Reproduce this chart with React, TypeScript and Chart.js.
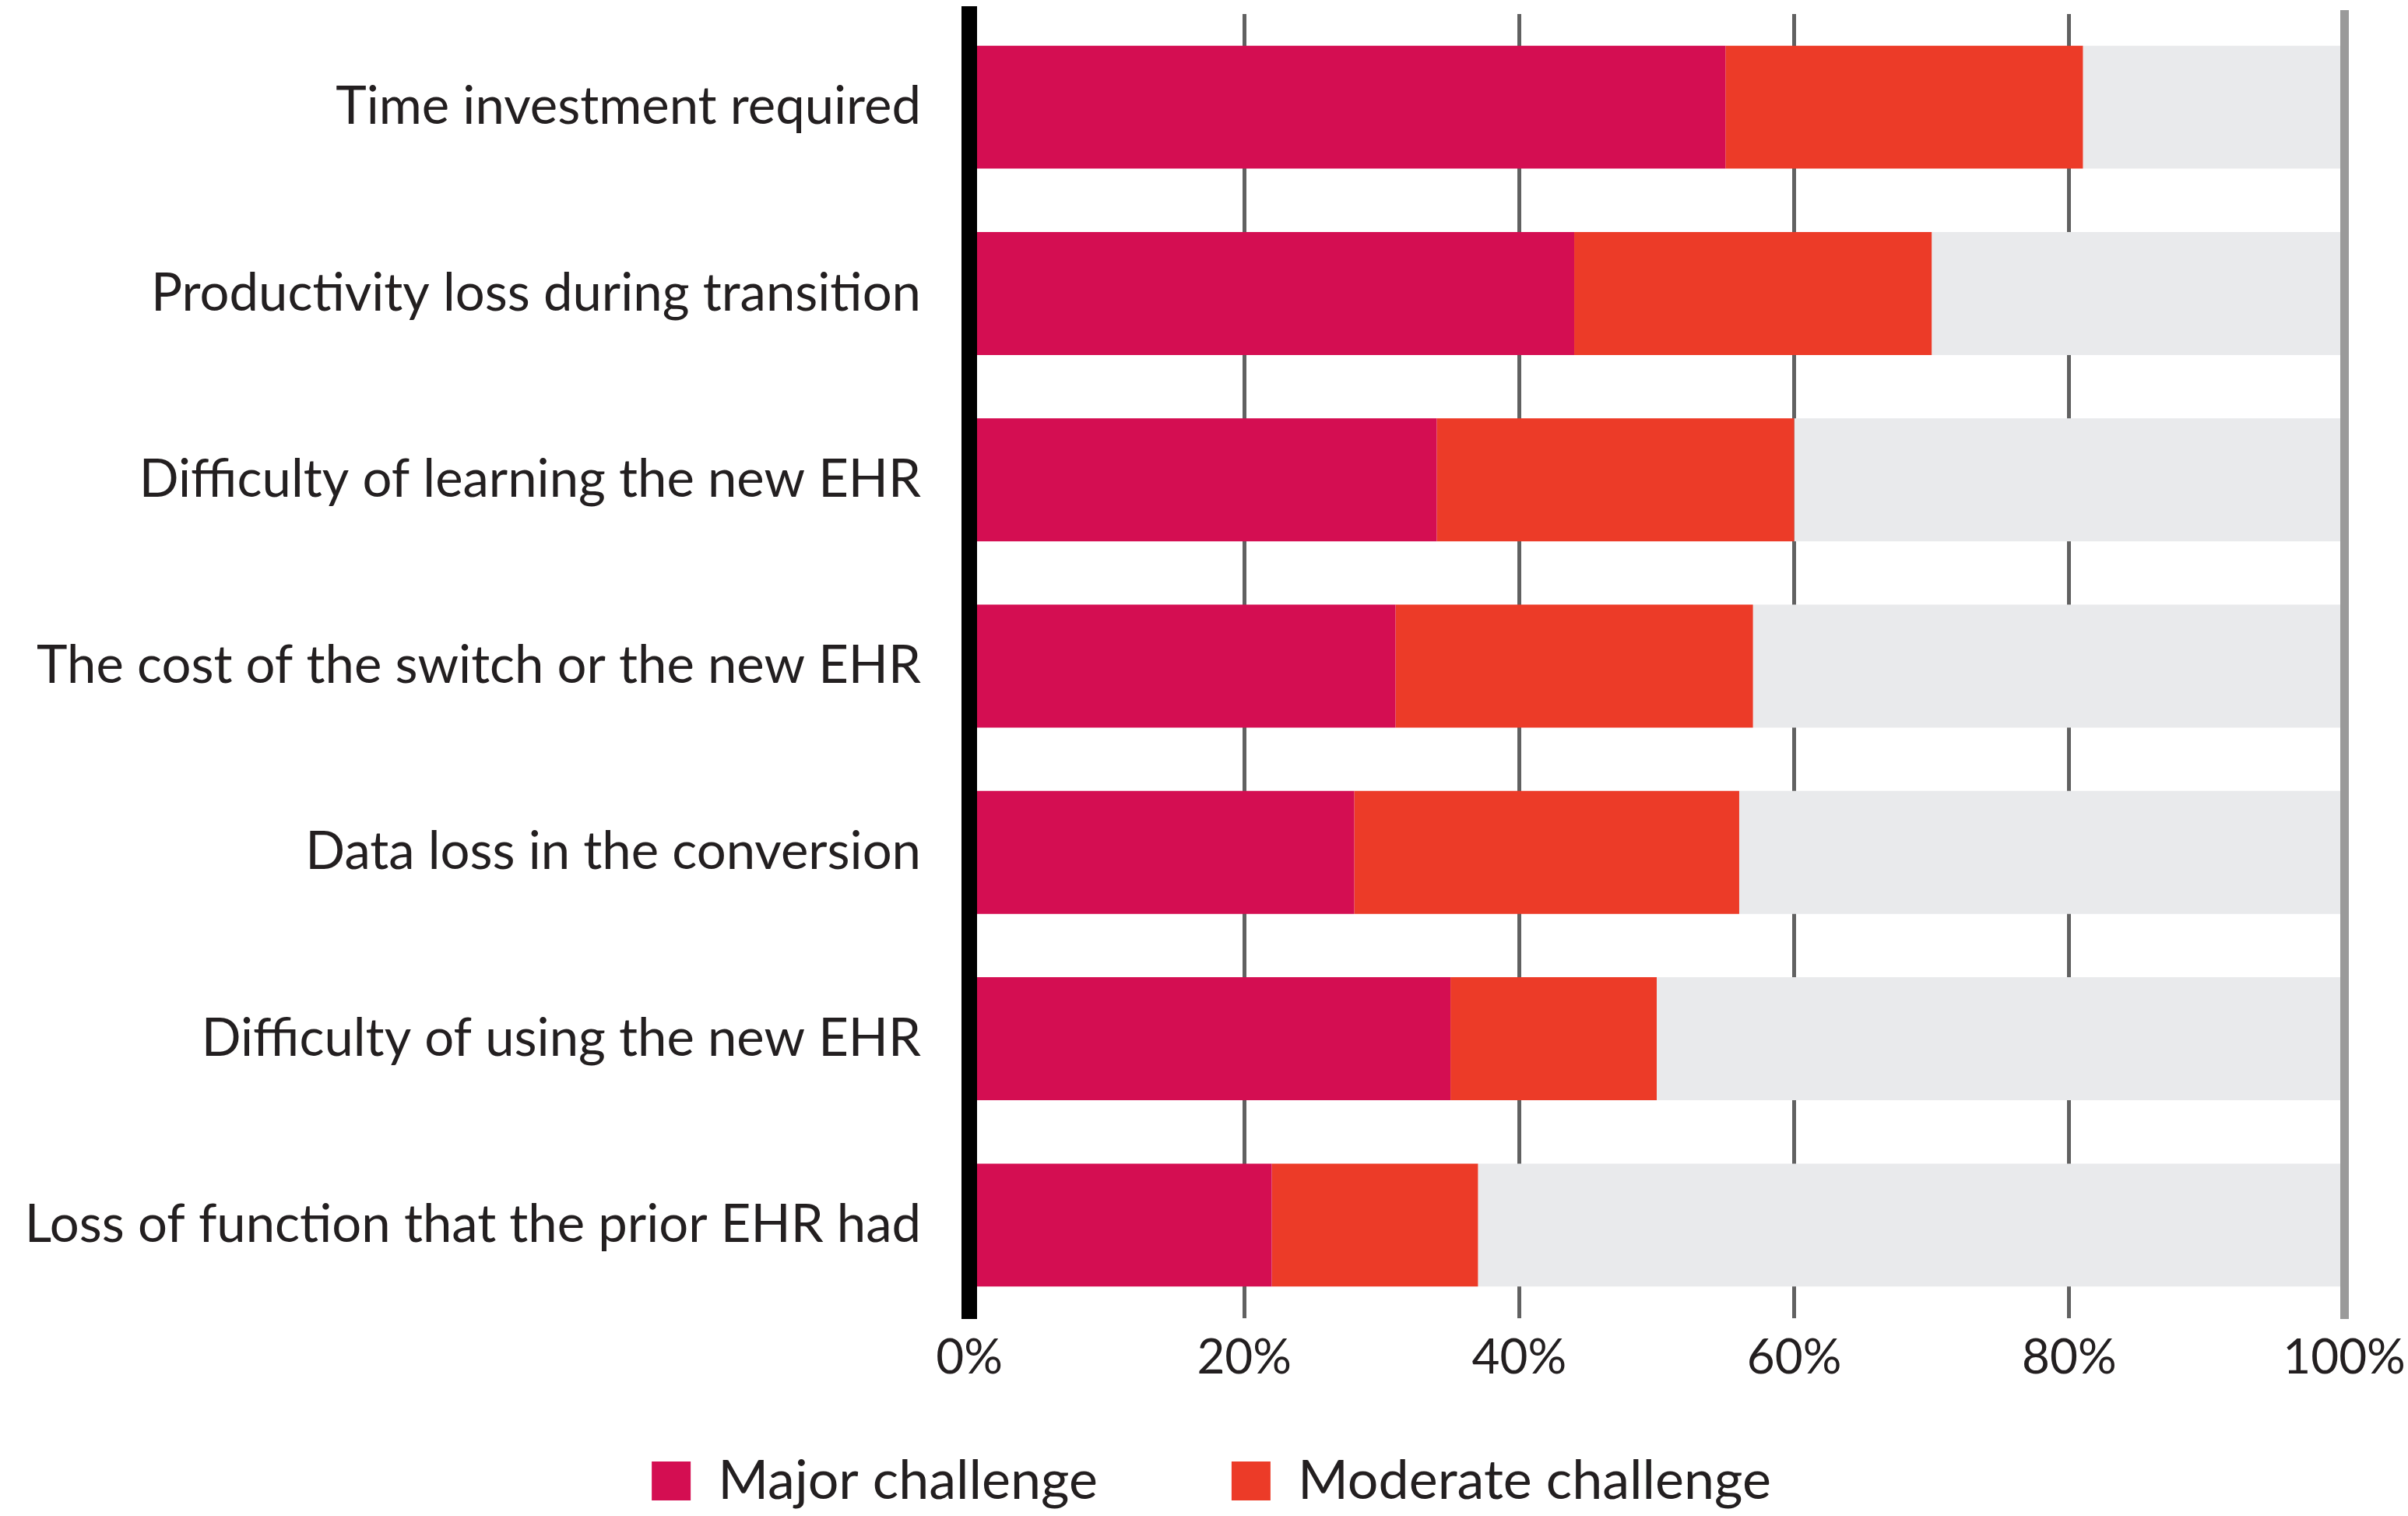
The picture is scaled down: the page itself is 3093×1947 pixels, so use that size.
import React, { useEffect, useRef } from 'react';
import { Chart, registerables } from 'chart.js';

Chart.register(...registerables);

const categories = [
  'Time investment required',
  'Productivity loss during transition',
  'Difficulty of learning the new EHR',
  'The cost of the switch or the new EHR',
  'Data loss in the conversion',
  'Difficulty of using the new EHR',
  'Loss of function that the prior EHR had',
];
const majorValues = [55, 44, 34, 31, 28, 35, 22];
const moderateValues = [26, 26, 26, 26, 28, 15, 15];
const seriesNames = ['Major challenge', 'Moderate challenge'];
const xTickValues = [0, 20, 40, 60, 80, 100];

const FONT = 'Lato';
const TEXT = '#231f20';

export default function App() {
  const ref = useRef<HTMLCanvasElement | null>(null);
  useEffect(() => {
    document.body.style.margin = '0';
    const canvas = ref.current!;
    const remaining = majorValues.map((m, i) => 100 - m - moderateValues[i]);
    const chart = new Chart(canvas, {
      type: 'bar',
      data: {
        labels: categories,
        datasets: [
          { label: seriesNames[0], data: majorValues, backgroundColor: '#d40e52', borderWidth: 0, barPercentage: 0.66, categoryPercentage: 1 },
          { label: seriesNames[1], data: moderateValues, backgroundColor: '#ec3b28', borderWidth: 0, barPercentage: 0.66, categoryPercentage: 1 },
          { label: 'Rest', data: remaining, backgroundColor: '#e9eaec', borderWidth: 0, barPercentage: 0.66, categoryPercentage: 1 },
        ],
      },
      options: {
        indexAxis: 'y',
        responsive: false,
        animation: false,
        layout: { padding: { top: 18, right: 0, bottom: 0, left: 19 } },
        scales: {
          x: {
            stacked: true,
            min: 0,
            max: 100,
            afterBuildTicks: (s: any) => { s.ticks = xTickValues.map((v) => ({ value: v })); },
            afterFit: (s: any) => { s.height = 2; s.paddingLeft = 0; s.paddingRight = 0; },
            ticks: {
              callback: (v: any) => v + '%',
              font: { family: FONT, size: 62 },
              color: TEXT,
              mirror: true,
              padding: -88,
              maxRotation: 0,
              autoSkip: false,
            },
            grid: {
              drawTicks: false,
              color: (ctx: any) => (ctx.index === 0 || ctx.index === xTickValues.length - 1 ? 'rgba(0,0,0,0)' : '#616161'),
              lineWidth: 5,
            },
            border: { display: false },
          },
          y: {
            stacked: true,
            afterFit: (s: any) => { s.width = 1226; s.paddingTop = 0; s.paddingBottom = 0; },
            ticks: { font: { family: FONT, size: 67 }, color: TEXT, padding: 62 },
            grid: { display: false, drawTicks: false },
            border: { display: true, color: '#000000', width: 20, z: 1 },
          },
          y2: {
            type: 'category',
            position: 'right',
            afterFit: (s: any) => { s.width = 82; s.paddingTop = 0; s.paddingBottom = 0; },
            ticks: { display: false },
            grid: { display: false, drawTicks: false },
            border: { display: true, color: '#9a9a9a', width: 11, z: 1 },
          },
        },
        plugins: {
          tooltip: { enabled: false },
          legend: {
            position: 'bottom',
            align: 'center',
            labels: {
              boxWidth: 50,
              boxHeight: 50,
              padding: 172,
              color: TEXT,
              font: { family: FONT, size: 70 },
              filter: (item: any) => item.datasetIndex < 2,
            },
          },
        },
      },
    });
    return () => chart.destroy();
  }, []);
  return (
    <div style={{ width: 3093, height: 1947 }}>
      <canvas ref={ref} width={3093} height={1947} style={{ display: 'block' }} />
    </div>
  );
}
